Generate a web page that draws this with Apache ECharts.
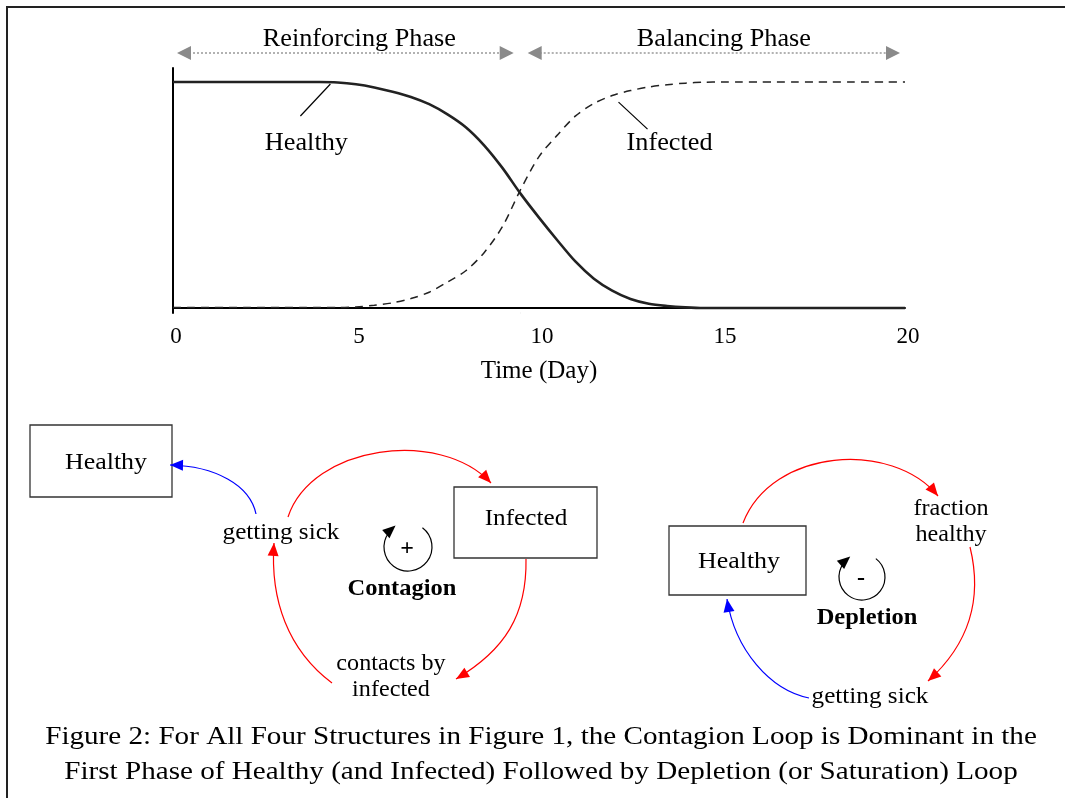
<!DOCTYPE html>
<html>
<head>
<meta charset="utf-8">
<script src="https://cdn.jsdelivr.net/npm/echarts@6/dist/echarts.min.js"></script>
<style>
  html, body { margin: 0; padding: 0; background: #fff; }
  #main { width: 1065px; height: 798px; }
</style>
</head>
<body>
<div id="main"></div>
<script>
// time in days (half-day steps)
var days = [0, 0.5, 1, 1.5, 2, 2.5, 3, 3.5, 4, 4.5, 5, 5.5, 6, 6.5, 7, 7.5, 8, 8.5, 9, 9.5,
  10, 10.5, 11, 11.5, 12, 12.5, 13, 13.5, 14, 14.5, 15, 15.5, 16, 16.5, 17, 17.5, 18, 18.5, 19, 19.5, 20];
// fraction of population
var healthy = [1, 1, 1, 1, 1, 1, 1, 1, 1, 0.998, 0.99, 0.976, 0.957, 0.934, 0.902, 0.857, 0.8, 0.72, 0.62, 0.505,
  0.4, 0.3, 0.205, 0.13, 0.077, 0.04, 0.019, 0.009, 0.003, 0, 0, 0, 0, 0, 0, 0, 0, 0, 0, 0, 0];
var infected = [0.002, 0.002, 0.002, 0.002, 0.002, 0.002, 0.002, 0.002, 0.002, 0.002, 0.005, 0.012, 0.023, 0.042, 0.07, 0.115, 0.165, 0.245, 0.36, 0.525,
  0.67, 0.765, 0.85, 0.905, 0.94, 0.962, 0.978, 0.988, 0.995, 0.999, 1, 1, 1, 1, 1, 1, 1, 1, 1, 1, 1];
var phaseSplit = 9.5;   // day where the loops swap dominance
var phaseNames = ["Reinforcing Phase", "Balancing Phase"];
var caption = [
  "Figure 2: For All Four Structures in Figure 1, the Contagion Loop is Dominant in the",
  "First Phase of Healthy (and Infected) Followed by Depletion (or Saturation) Loop"
];

var SERIF = '"Liberation Serif", serif';
var RED = "#ff0000", BLUE = "#0000ff";

var chart = echarts.init(document.getElementById("main"));

function pairs(vals) {
  return days.map(function (d, i) { return [d, vals[i]]; });
}

var option = {
  animation: false,
  backgroundColor: "#fff",
  grid: { left: 173, right: 160, top: 68, bottom: 485 },
  xAxis: {
    type: "value", min: 0, max: 20, interval: 5,
    name: "Time (Day)", nameLocation: "middle", nameGap: 46,
    nameTextStyle: { fontFamily: SERIF, fontSize: 25, color: "#000" },
    axisLine: { show: true, lineStyle: { color: "#000", width: 2 } },
    axisTick: { show: false },
    splitLine: { show: false },
    axisLabel: { fontFamily: SERIF, fontSize: 23, color: "#000", margin: 12, padding: [0, 0, 0, 6] }
  },
  yAxis: {
    type: "value", min: -0.022, max: 1.062,
    axisLine: { show: true, onZero: false, lineStyle: { color: "#000", width: 2 } },
    axisTick: { show: false },
    splitLine: { show: false },
    axisLabel: { show: false }
  },
  series: [
    {
      name: "Healthy", type: "line", data: pairs(healthy),
      showSymbol: false, smooth: 0.3,
      lineStyle: { color: "#222", width: 2.6 }
    },
    {
      name: "Infected", type: "line", data: pairs(infected),
      showSymbol: false, smooth: 0.3,
      lineStyle: { color: "#222", width: 1.5, type: [8, 6] }
    }
  ]
};
chart.setOption(option);

// ---- helpers for the annotation graphics ----
function px(x, y) { return chart.convertToPixel({ gridIndex: 0 }, [x, y]); }

// text is stretched a little sideways, the original face is wider than Times
function txt(s, x, y, size, bold, sx) {
  return {
    type: "text", silent: true,
    x: x, y: y, scaleX: sx || 1.05,
    style: {
      text: s, x: 0, y: 0, fill: "#000",
      fontFamily: SERIF, fontSize: size || 25, fontWeight: bold ? "bold" : "normal",
      align: "center", verticalAlign: "middle", textAlign: "center", textVerticalAlign: "middle"
    }
  };
}

function line(x1, y1, x2, y2, color, w, dash) {
  return {
    type: "line", silent: true,
    shape: { x1: x1, y1: y1, x2: x2, y2: y2 },
    style: { stroke: color, lineWidth: w, lineDash: dash || null }
  };
}

function head(tip, from, color, len, half) {
  var dx = tip[0] - from[0], dy = tip[1] - from[1];
  var d = Math.sqrt(dx * dx + dy * dy) || 1;
  var ux = dx / d, uy = dy / d;
  var bx = tip[0] - ux * len, by = tip[1] - uy * len;
  return {
    type: "polygon", silent: true,
    shape: { points: [tip, [bx - uy * half, by + ux * half], [bx + uy * half, by - ux * half]] },
    style: { fill: color }
  };
}

// cubic link with arrow at its end
function link(p0, c1, c2, p1, color) {
  return [
    {
      type: "bezierCurve", silent: true,
      shape: { x1: p0[0], y1: p0[1], cpx1: c1[0], cpy1: c1[1], cpx2: c2[0], cpy2: c2[1], x2: p1[0], y2: p1[1] },
      style: { stroke: color, lineWidth: 1.2, fill: null }
    },
    head(p1, c2, color, 13, 5.5)
  ];
}

function box(x, y, w, h) {
  return {
    type: "rect", silent: true,
    shape: { x: x, y: y, width: w, height: h },
    style: { fill: "#fff", stroke: "#333", lineWidth: 1.3 }
  };
}

// loop symbol: open circle with an arrow at its upper left
function loopMark(cx, cy, r, sign) {
  var a0 = -53 * Math.PI / 180, a1 = 230 * Math.PI / 180;
  var tip = [cx + r * Math.cos(a1), cy + r * Math.sin(a1)];
  var back = [tip[0] + Math.sin(a1) * 10, tip[1] - Math.cos(a1) * 10];
  return [
    {
      type: "arc", silent: true,
      shape: { cx: cx, cy: cy, r: r, startAngle: a0, endAngle: a1 - 0.25, clockwise: true },
      style: { stroke: "#000", lineWidth: 1.2, fill: null }
    },
    head([tip[0] + 3, tip[1] - 3], back, "#000", 13, 5.5),
    txt(sign, cx - 1, cy + 2, 24, true, 1)
  ];
}

var g = [];

// frame of the figure
g.push(line(6, 7, 1065, 7, "#222", 2));
g.push(line(7, 6, 7, 798, "#222", 2));

// phase divider and arrows
var top = px(phaseSplit, 1.062), bot = px(phaseSplit, -0.022);
var arrowY = 53;
g.push(line(top[0], 35, bot[0], bot[1], "#999", 1.3, [2, 2]));
var spans = [[0, phaseSplit], [phaseSplit, 20]];
spans.forEach(function (sp, i) {
  var a = px(sp[0], 0)[0] + (i === 0 ? 4 : 7);
  var b = px(sp[1], 0)[0] - (i === 0 ? 7 : 5);
  g.push(line(a + 12, arrowY, b - 12, arrowY, "#999", 1.5, [2, 2]));
  g.push(head([a, arrowY], [a + 20, arrowY], "#8a8a8a", 14, 7));
  g.push(head([b, arrowY], [b - 20, arrowY], "#8a8a8a", 14, 7));
  g.push(txt(phaseNames[i], (a + b) / 2 + (i === 0 ? 14 : 10), 39, 25));
});

// curve labels with leader lines
var hp = px(4.3, 1);
g.push(line(hp[0], hp[1] + 2, hp[0] - 30, hp[1] + 34, "#000", 1.2));
g.push(txt("Healthy", hp[0] - 24, 143, 25));
var ip = px(12.2, 0.92);
g.push(line(ip[0] - 1, ip[1] + 2, ip[0] + 28, ip[1] + 29, "#000", 1.2));
g.push(txt("Infected", ip[0] + 50, 143, 25));

// ---- left loop: contagion ----
g.push(box(30, 425, 142, 72));
g.push(txt("Healthy", 106, 463, 24, false, 1.08));
g.push(box(454, 487, 143, 71));
g.push(txt("Infected", 526, 519, 24, false, 1.05));
g.push(txt("getting sick", 281, 533, 24));
g.push(txt("contacts by", 391, 664, 23));
g.push(txt("infected", 391, 690, 23));
g = g.concat(link([256, 514], [250, 485], [215, 466], [170, 465], BLUE));
g = g.concat(link([288, 517], [312, 445], [440, 428], [491, 483], RED));
g = g.concat(link([526, 559], [527, 615], [505, 650], [456, 679], RED));
g = g.concat(link([332, 683], [288, 650], [270, 600], [274, 543], RED));
g = g.concat(loopMark(408, 547, 24, "+"));
g.push(txt("Contagion", 402, 589, 24, true, 1.02));

// ---- right loop: depletion ----
g.push(box(669, 526, 137, 69));
g.push(txt("Healthy", 739, 562, 24, false, 1.08));
g.push(txt("fraction", 951, 509, 23));
g.push(txt("healthy", 951, 535, 23));
g.push(txt("getting sick", 870, 697, 24));
g = g.concat(link([743, 523], [772, 448], [892, 440], [938, 496], RED));
g = g.concat(link([970, 547], [983, 600], [968, 645], [928, 681], RED));
g = g.concat(link([809, 698], [770, 690], [735, 650], [727, 599], BLUE));
g = g.concat(loopMark(862, 577, 23, "-"));
g.push(txt("Depletion", 867, 618, 24, true, 1.02));

// caption
g.push(txt(caption[0], 541, 737, 26, false, 1.12));
g.push(txt(caption[1], 541, 772, 26, false, 1.12));

chart.setOption({ graphic: { elements: g } });
</script>
</body>
</html>
